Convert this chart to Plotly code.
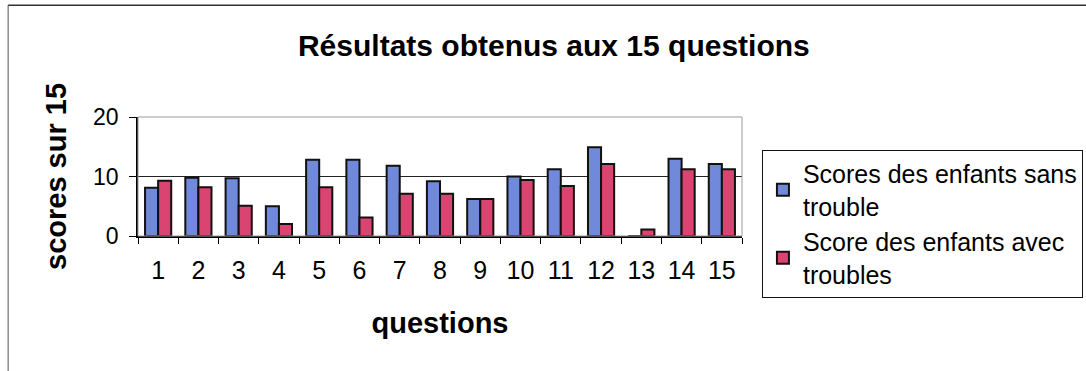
import plotly.graph_objects as go

# Questions and average scores per group
questions = [str(i) for i in range(1, 16)]
sans_trouble = [8.1, 9.8, 9.7, 5.0, 12.8, 12.8, 11.8, 9.2, 6.2, 10.0, 11.2, 14.9, 0.0, 13.0, 12.1]
avec_troubles = [9.3, 8.2, 5.1, 2.0, 8.2, 3.1, 7.1, 7.1, 6.2, 9.4, 8.4, 12.1, 1.1, 11.2, 11.2]

name_sans = "Scores des enfants sans<br>trouble"
name_avec = "Score des enfants avec<br>troubles"

FONT = "Liberation Sans, Arial, sans-serif"

fig = go.Figure()
fig.add_trace(go.Bar(
    x=questions, y=sans_trouble, name=name_sans,
    marker=dict(color="#7189DA", line=dict(color="#111111", width=2)),
))
fig.add_trace(go.Bar(
    x=questions, y=avec_troubles, name=name_avec,
    marker=dict(color="#DA4470", line=dict(color="#111111", width=2)),
))

fig.update_layout(
    width=1086, height=371,
    margin=dict(l=138, r=344, t=117, b=135, autoexpand=False),
    paper_bgcolor="white", plot_bgcolor="white",
    font=dict(family=FONT, color="black", size=24),
    barmode="group", bargap=0.35, bargroupgap=0,
    title=dict(text="<b>Résultats obtenus aux 15 questions</b>",
               x=0.51, xref="container", xanchor="center",
               y=0.878, yref="container", yanchor="middle",
               font=dict(size=30, family=FONT)),
    showlegend=True,
    legend=dict(x=1.033, xanchor="left", y=0.725, yanchor="top",
                bordercolor="#111111", borderwidth=1, bgcolor="white",
                font=dict(size=25, family=FONT), itemwidth=30,
                tracegroupgap=6, maxheight=250),
    xaxis=dict(
        title=dict(text="<b>questions</b>", font=dict(size=29), standoff=30),
        showline=True, linecolor="black", linewidth=1.5,
        ticks="outside", tickson="boundaries", ticklen=6, tickcolor="black",
        tickfont=dict(size=25), ticklabelstandoff=11,
    ),
    yaxis=dict(
        title=dict(text="<b>scores sur 15</b>", font=dict(size=29), standoff=18),
        range=[0, 20], dtick=10,
        showline=True, linecolor="black", linewidth=1.5,
        ticks="outside", ticklen=7, tickcolor="black",
        showgrid=True, gridcolor="#222222", gridwidth=1,
        zeroline=False, tickfont=dict(size=23), ticklabelstandoff=6,
    ),
    shapes=[
        # light frame of the plotting area
        dict(type="rect", xref="paper", yref="paper", x0=0, x1=1, y0=0, y1=1,
             line=dict(color="#9a9a9a", width=1), layer="above"),
        # outer chart frame (top and left edges)
        dict(type="line", xref="paper", yref="paper", x0=-0.215, x1=2.0, y0=1.94, y1=1.94,
             line=dict(color="#333333", width=1.5)),
        dict(type="line", xref="paper", yref="paper", x0=-0.215, x1=-0.215, y0=1.94, y1=-1.2,
             line=dict(color="#555555", width=1)),
    ],
)

fig.update_xaxes(layer="above traces")
fig.update_yaxes(layer="above traces")

fig.write_html("out.html")
